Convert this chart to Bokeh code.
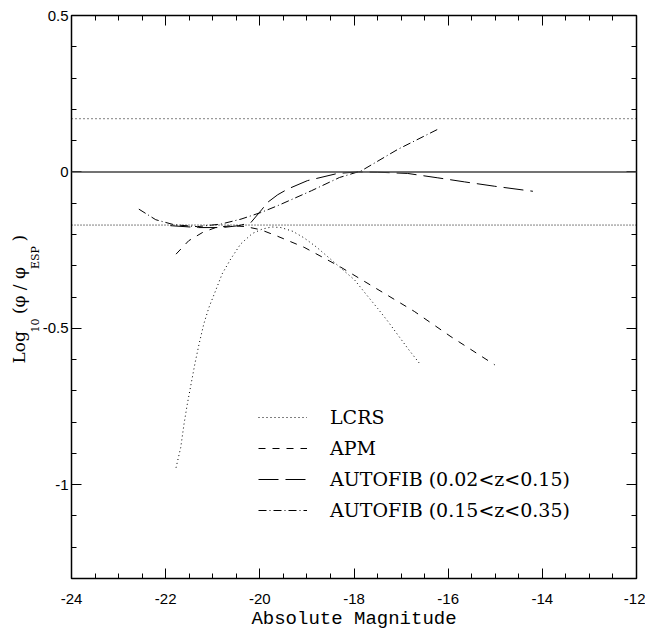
from bokeh.plotting import figure
from bokeh.models import (Span, Title, Legend, LegendItem, LinearAxis,
                          SingleIntervalTicker, Range1d)
from bokeh.embed import file_html
from bokeh.resources import INLINE

# ---------------- data ----------------
x_ticks = [-24, -22, -20, -18, -16, -14, -12]
x_tick_labels = ["-24", "-22", "-20", "-18", "-16", "-14", "-12"]
y_ticks = [0.5, 0.0, -0.5, -1.0]
y_tick_labels = ["0.5", "0", "-0.5", "-1"]

ref_levels = [0.17, -0.17]

lcrs_x = [-21.78, -21.68, -21.61, -21.54, -21.46, -21.38, -21.29, -21.19, -21.08,
          -20.94, -20.80, -20.62, -20.41, -20.16, -19.95, -19.75, -19.55, -19.30,
          -19.06, -18.80, -18.49, -18.20, -17.99, -17.75, -17.50, -17.28, -17.07,
          -16.85, -16.61]
lcrs_y = [-0.946, -0.881, -0.806, -0.742, -0.678, -0.614, -0.550, -0.486, -0.433,
          -0.380, -0.326, -0.279, -0.231, -0.197, -0.183, -0.176, -0.178, -0.190,
          -0.211, -0.240, -0.280, -0.318, -0.345, -0.390, -0.436, -0.478, -0.521,
          -0.566, -0.612]

apm_x = [-21.78, -21.51, -21.22, -20.94, -20.60, -20.30, -19.98, -19.62, -19.06,
         -18.31, -17.36, -16.72, -15.94, -15.01]
apm_y = [-0.263, -0.220, -0.194, -0.178, -0.172, -0.175, -0.185, -0.206, -0.241,
         -0.302, -0.388, -0.446, -0.527, -0.617]

af1_x = [-21.90, -21.30, -20.80, -20.45, -20.19, -19.95, -19.84, -19.62, -19.41,
         -18.99, -18.35, -17.90, -17.50, -16.86, -16.22, -15.65, -15.01, -14.20]
af1_y = [-0.172, -0.178, -0.178, -0.172, -0.162, -0.119, -0.098, -0.073, -0.055,
         -0.028, -0.005, 0.000, -0.001, -0.005, -0.019, -0.032, -0.046, -0.062]

af2_x = [-22.57, -22.21, -21.82, -21.33, -20.83, -20.40, -19.98, -19.62, -18.90,
         -18.31, -17.85, -17.07, -16.21]
af2_y = [-0.119, -0.153, -0.169, -0.175, -0.167, -0.151, -0.130, -0.108, -0.060,
         -0.018, 0.003, 0.072, 0.137]

series_labels = ["LCRS", "APM", "AUTOFIB (0.02<z<0.15)", "AUTOFIB (0.15<z<0.35)"]
x_title = "Absolute Magnitude"
# y title: main text (with gaps for subscripts) and subscripts
EN = "\u2002"
y_title_main = "Log" + EN + EN + "(\u03c6 / \u03c6" + EN + EN + EN + ")"
y_title_sub = "10" + EN * 9 + "ESP"

# ---------------- figure ----------------
X0, X1 = -24, -12
Y0, Y1 = -1.3, 0.5
W, H = 645, 632
BL, BR, BT, BB = 71, 9, 15, 54

p = figure(width=W, height=H, x_range=Range1d(X0, X1), y_range=Range1d(Y0, Y1),
           output_backend="svg", toolbar_location=None,
           min_border_left=BL, min_border_right=BR, min_border_top=BT,
           min_border_bottom=BB)
p.grid.visible = False
p.outline_line_color = "black"
p.outline_line_width = 1.5
p.background_fill_color = "white"
p.border_fill_color = "white"


def style_axis(ax, ticker, labels_on, standoff):
    ax.ticker = ticker
    ax.axis_line_color = None
    ax.major_tick_in = 10
    ax.major_tick_out = 0
    ax.minor_tick_in = 5
    ax.minor_tick_out = 0
    ax.major_tick_line_color = "black"
    ax.minor_tick_line_color = "black"
    ax.major_tick_line_width = 1
    ax.minor_tick_line_width = 1
    ax.major_label_standoff = standoff
    if labels_on:
        ax.major_label_text_font = "Liberation Sans"
        ax.major_label_text_font_size = "15px"
        ax.major_label_text_color = "black"
    else:
        ax.major_label_text_font_size = "1px"
        ax.major_label_text_color = None


style_axis(p.xaxis[0], SingleIntervalTicker(interval=2, num_minor_ticks=4), True, 15)
style_axis(p.yaxis[0], SingleIntervalTicker(interval=0.5, num_minor_ticks=5), True, 3)
p.xaxis[0].major_label_overrides = {t: l for t, l in zip(x_ticks, x_tick_labels)}
p.yaxis[0].major_label_overrides = {t: l for t, l in zip(y_ticks, y_tick_labels)}

p.xaxis[0].axis_label = x_title
p.xaxis[0].axis_label_text_font = "Liberation Mono"
p.xaxis[0].axis_label_text_font_size = "19px"
p.xaxis[0].axis_label_text_font_style = "normal"
p.xaxis[0].axis_label_text_color = "black"
p.xaxis[0].axis_label_standoff = 1

top_ax = LinearAxis()
style_axis(top_ax, SingleIntervalTicker(interval=2, num_minor_ticks=4), False, 0)
p.add_layout(top_ax, "above")
right_ax = LinearAxis()
style_axis(right_ax, SingleIntervalTicker(interval=0.5, num_minor_ticks=5), False, 0)
p.add_layout(right_ax, "right")

# y-axis title as side-panel titles (subscripts nearer the axis)
p.add_layout(Title(text=y_title_sub, align="left", offset=246, standoff=-4,
                   text_font="DejaVu Serif", text_font_size="11px",
                   text_font_style="normal", text_color="black"), "left")
p.add_layout(Title(text=y_title_main, align="left", offset=215, standoff=0,
                   text_font="DejaVu Serif", text_font_size="17px",
                   text_font_style="normal", text_color="black"), "left")

# reference lines
p.add_layout(Span(location=0, dimension="width", line_color="#444444", line_width=1.5))
p.add_layout(Span(location=ref_levels[0], dimension="width", line_color="black",
                  line_width=1, line_dash="1 3"))
p.add_layout(Span(location=ref_levels[1], dimension="width", line_color="black",
                  line_width=1, line_dash="1 2"))

# curves
r1 = p.line(lcrs_x, lcrs_y, line_color="black", line_width=1, line_dash="1 3")
r2 = p.line(apm_x, apm_y, line_color="black", line_width=1, line_dash="7 7")
r3 = p.line(af1_x, af1_y, line_color="black", line_width=1, line_dash="20 7")
r4 = p.line(af2_x, af2_y, line_color="black", line_width=1, line_dash="8 3 1 3")

legend = Legend(items=[LegendItem(label=series_labels[i], renderers=[r])
                       for i, r in enumerate([r1, r2, r3, r4])],
                location=(258 - BL, 56),
                glyph_width=49, glyph_height=24, label_height=24, spacing=7,
                label_standoff=23, padding=0, margin=0,
                border_line_color=None, background_fill_alpha=0,
                label_text_font="DejaVu Serif", label_text_font_size="19px",
                label_text_color="black")
p.add_layout(legend)

open("out.html", "w").write(file_html(p, INLINE))
